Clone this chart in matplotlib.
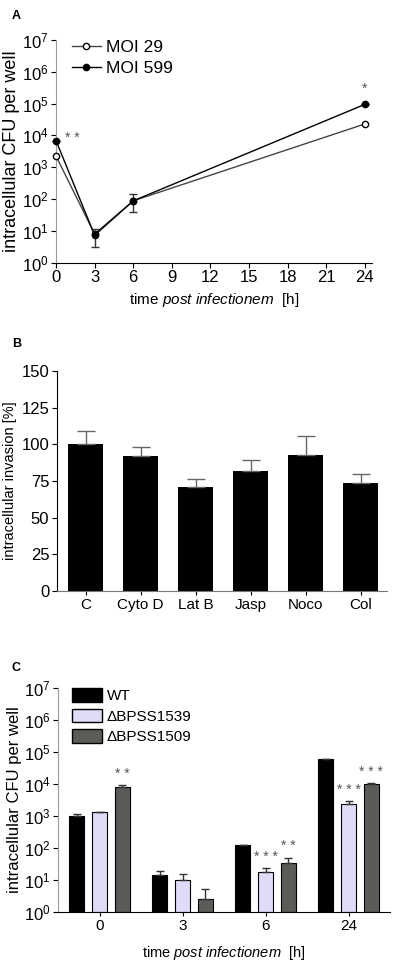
import numpy as np
import matplotlib
matplotlib.use('Agg')
import matplotlib.pyplot as plt
from matplotlib.patches import Patch
from matplotlib.lines import Line2D

plt.rcParams['font.family'] = ['Liberation Sans', 'DejaVu Sans']
plt.rcParams['mathtext.fontset'] = 'custom'
plt.rcParams['mathtext.rm'] = 'Liberation Sans'
plt.rcParams['mathtext.it'] = 'Liberation Sans:italic'
plt.rcParams['font.size'] = 10

# panel A: time course, two MOIs
a_time = [0, 3, 6, 24]
moi29 = [2250, 8, 88, 2.3e4]
moi599 = [6900, 7.3, 88, 9.5e4]
# error bar ends (same as mean where no bar is visible)
moi_err_lo = [6900, 3.2, 40, 9.5e4]
moi_err_hi = [6900, 11.8, 142, 9.5e4]

# panel B: invasion with inhibitors
b_labels = ['C', 'Cyto D', 'Lat B', 'Jasp', 'Noco', 'Col']
b_vals = [100, 92, 71, 81.5, 92.5, 73.5]
b_err = [9, 6.5, 5.5, 7.5, 13, 6]

# panel C: mutants
c_times = ['0', '3', '6', '24']
wt = [1000, 14.7, 125, 6.0e4]
wt_err = [1180, 19.6, 128, 6.2e4]
d1539 = [1365, 10.2, 17.4, 2370]
d1539_err = [1380, 15, 23.7, 3000]
d1509 = [7900, 2.5, 33, 1.0e4]
d1509_err = [9300, 5.2, 50, 1.07e4]
c_stars_1539 = ['', '', '* * *', '* * *']
c_stars_1509 = ['* *', '', '* *', '* * *']

W, H = 397, 965
fig = plt.figure(figsize=(W / 100, H / 100), dpi=100)

def box(l, t, r, b):
    return [l / W, 1 - b / H, (r - l) / W, (b - t) / H]

grey = '#555555'

# ---------- A ----------
ax = fig.add_axes(box(56, 40, 372, 262.7))
ax.errorbar(a_time, moi29, color='#444444', lw=1, marker='o', ms=4.5,
            mfc='white', mec='black', mew=1, clip_on=False, zorder=3)
m599 = np.array(moi599)
ax.errorbar(a_time, moi599, yerr=[m599 - np.array(moi_err_lo),
                                  np.array(moi_err_hi) - m599],
            color='black', lw=1, marker='o', ms=4.5, capsize=3, elinewidth=1,
            ecolor='#333333', clip_on=False, zorder=4)
ax.set_yscale('log')
ax.set_ylim(1, 1e7)
ax.set_xlim(0, 24.55)
ax.set_xticks(range(0, 25, 3))
ax.set_yticks([10 ** i for i in range(8)])
ax.minorticks_off()
ax.tick_params(labelsize=12)
ax.set_ylabel('intracellular CFU per well', fontsize=13, labelpad=1)
ax.set_xlabel('time $\\it{post\\ infectionem}$  [h]', fontsize=11, labelpad=4)
ax.annotate('* *', (0, moi599[0]), xytext=(12, 2), textcoords='offset points',
            ha='center', va='center', color=grey, fontsize=10)
ax.annotate('*', (24, moi599[3]), xytext=(0, 6), textcoords='offset points',
            ha='center', va='bottom', color=grey, fontsize=10)
leg_h = [Line2D([], [], color='#444444', lw=1, marker='o', ms=4.5, mfc='white', mec='black'),
         Line2D([], [], color='black', lw=1, marker='o', ms=4.5)]
ax.legend(leg_h, ['MOI 29', 'MOI 599'], loc='upper left', bbox_to_anchor=(0.0, 1.07),
          frameon=False, fontsize=12.5, handlelength=1.7, handletextpad=0.3,
          labelspacing=0.35)
fig.text(12 / W, 1 - 16 / H, 'A', fontsize=9, fontweight='bold', va='center')

# ---------- B ----------
bx = fig.add_axes(box(57, 371, 387, 591))
xb = np.arange(len(b_labels))
bx.bar(xb, b_vals, width=0.65, color='black', yerr=[np.zeros(len(b_err)), b_err],
       capsize=6.5, error_kw=dict(ecolor='#666666', elinewidth=1, capthick=1))
bx.set_xlim(-0.52, 5.48)
bx.set_ylim(0, 150)
bx.set_yticks(range(0, 151, 25))
bx.set_xticks(xb)
bx.set_xticklabels(b_labels)
bx.tick_params(axis='x', length=3, labelsize=11)
bx.tick_params(axis='y', labelsize=12)
bx.set_ylabel('intracellular invasion [%]', fontsize=10.5, labelpad=3)
fig.text(12 / W, 1 - 344 / H, 'B', fontsize=9, fontweight='bold', va='center')

# ---------- C ----------
cx = fig.add_axes(box(58, 688, 390, 912))
xc = np.arange(len(c_times))
off = 0.276
bw = 0.19
ek = dict(ecolor='#333333', elinewidth=1, capthick=1)
cx.bar(xc - off, np.array(wt) - 1, bottom=1, width=bw, color='black', edgecolor='black',
       lw=0.8, yerr=[np.zeros(4), np.array(wt_err) - np.array(wt)], capsize=3, error_kw=ek)
cx.bar(xc, np.array(d1539) - 1, bottom=1, width=bw, color='#dedcf7', edgecolor='black',
       lw=0.8, yerr=[np.zeros(4), np.array(d1539_err) - np.array(d1539)], capsize=3, error_kw=ek)
cx.bar(xc + off, np.array(d1509) - 1, bottom=1, width=bw, color='#5b5b57', edgecolor='black',
       lw=0.8, yerr=[np.zeros(4), np.array(d1509_err) - np.array(d1509)], capsize=3, error_kw=ek)
for i in range(4):
    if c_stars_1539[i]:
        cx.annotate(c_stars_1539[i], (xc[i], d1539_err[i]), xytext=(0, 3),
                    textcoords='offset points', ha='center', va='bottom',
                    color=grey, fontsize=10)
    if c_stars_1509[i]:
        cx.annotate(c_stars_1509[i], (xc[i] + off, d1509_err[i]), xytext=(0, 3),
                    textcoords='offset points', ha='center', va='bottom',
                    color=grey, fontsize=10)
cx.set_yscale('log')
cx.set_ylim(1, 1e7)
cx.set_xlim(-0.5, 3.5)
cx.set_yticks([10 ** i for i in range(8)])
cx.minorticks_off()
cx.set_xticks(xc)
cx.set_xticklabels(c_times)
cx.tick_params(axis='x', length=3, labelsize=11)
cx.tick_params(axis='y', labelsize=12)
cx.set_ylabel('intracellular CFU per well', fontsize=12, labelpad=1)
cx.set_xlabel('time $\\it{post\\ infectionem}$  [h]', fontsize=10.5, labelpad=8)
leg_p = [Patch(facecolor='black', edgecolor='black'),
         Patch(facecolor='#dedcf7', edgecolor='black'),
         Patch(facecolor='#5b5b57', edgecolor='black')]
cx.legend(leg_p, ['WT', '\u0394BPSS1539', '\u0394BPSS1509'], loc='upper left',
          bbox_to_anchor=(0.0, 1.06), frameon=False, fontsize=11,
          handlelength=2.0, handleheight=1.0, handletextpad=0.3, labelspacing=0.35)
fig.text(12 / W, 1 - 668 / H, 'C', fontsize=9, fontweight='bold', va='center')

for a in (ax, bx, cx):
    a.spines['top'].set_visible(False)
    a.spines['right'].set_visible(False)
    a.tick_params(width=0.8, pad=2)
    a.spines['bottom'].set_linewidth(0.8)
    a.spines['left'].set_linewidth(0.8)
ax.spines['left'].set_color('#999999')
cx.spines['left'].set_color('#999999')
bx.spines['bottom'].set_color('#777777')

fig.savefig('out.png', dpi=100)
